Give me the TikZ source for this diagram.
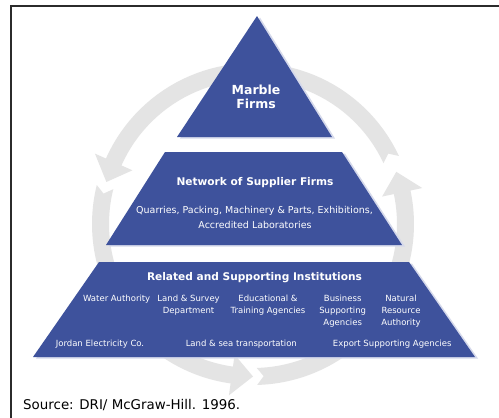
\documentclass[tikz,border=0pt]{standalone}
\usepackage{fontspec}
\setmainfont{DejaVu Sans}
\definecolor{pyrblue}{HTML}{3E529C}
\definecolor{pyrshadow}{HTML}{D5D9EB}
\definecolor{ringgray}{HTML}{E4E4E4}
\definecolor{framegray}{HTML}{2B2B2B}
% curved arrow segment of the cycle: tail angle #1, tip angle #2 (counter-clockwise)
\newcommand\cycarrow[2]{%
  \fill[ringgray]
    plot[domain=#1:#2-8, samples=50] ({253+161*cos(\x)},{224-161*sin(\x)})
    -- ({253+173*cos(#2-8)},{224-173*sin(#2-8)})
    -- ({253+152.5*cos(#2)},{224-152.5*sin(#2)})
    -- ({253+132*cos(#2-8)},{224-132*sin(#2-8)})
    -- plot[domain=#2-8:#1, samples=50] ({253+144*cos(\x)},{224-144*sin(\x)})
    -- ({253+152.5*cos(#1+2.5)},{224-152.5*sin(#1+2.5)}) -- cycle;}
\begin{document}
\begin{tikzpicture}[x=1pt,y=-1pt,
  tier/.style={fill=pyrblue},
  tiershadow/.style={fill=pyrshadow},
  toptxt/.style={text=white,font=\bfseries\fontsize{12.5}{14}\selectfont,inner sep=0pt,anchor=base},
  headtxt/.style={text=white,font=\bfseries\fontsize{10.6}{13}\selectfont,inner sep=0pt,anchor=base},
  midtxt/.style={text=white,font=\fontsize{9.5}{14}\selectfont,inner sep=0pt,anchor=base},
  itemtxt/.style={text=white,font=\fontsize{8.5}{12}\selectfont,inner sep=0pt,anchor=base},
  srctxt/.style={text=black,font=\fontsize{13.4}{16}\selectfont,inner sep=0pt,anchor=base west}]
\useasboundingbox (0,0) rectangle (499,418);
\fill[white] (0,0) rectangle (499,418);
% frame
\draw[framegray,line width=1.2pt] (11,418) -- (11,6) -- (499,6);
% cycle arrows
\cycarrow{25}{164}
\cycarrow{166}{270}
\cycarrow{271.5}{380}
% pyramid shadows
\fill[tiershadow,shift={(3,1.5)}] (257,16) -- (332,137) -- (177,137) -- cycle;
\fill[tiershadow,shift={(3,1.5)}] (165,152) -- (342,152) -- (402,245) -- (106,245) -- cycle;
\fill[tiershadow,shift={(3,1.5)}] (99,262) -- (409,262) -- (475,357) -- (33,357) -- cycle;
% pyramid tiers
\fill[tier] (257,16) -- (332,137) -- (177,137) -- cycle;
\fill[tier] (165,152) -- (342,152) -- (402,245) -- (106,245) -- cycle;
\fill[tier] (99,262) -- (409,262) -- (475,357) -- (33,357) -- cycle;
% texts
\node[toptxt] (t1) at (256,94) {Marble};
\node[toptxt] (t2) at (256,108) {Firms};
\node[headtxt] (m0) at (255,185.5) {Network of Supplier Firms};
\node[midtxt] (m1) at (254.5,213.5) {Quarries, Packing, Machinery \& Parts, Exhibitions,};
\node[midtxt] (m2) at (255,228) {Accredited Laboratories};
\node[headtxt] (b0) at (254.5,280) {Related and Supporting Institutions};
\node[itemtxt] (wa) at (116.7,301.5) {Water Authority};
\node[itemtxt] (ls1) at (188.6,301.5) {Land \& Survey};
\node[itemtxt] (ls2) at (188.6,313.5) {Department};
\node[itemtxt] (ed1) at (268,301.5) {Educational \&};
\node[itemtxt] (ed2) at (268,313.5) {Training Agencies};
\node[itemtxt] (bs1) at (342.7,301.5) {Business};
\node[itemtxt] (bs2) at (342.7,313.5) {Supporting};
\node[itemtxt] (bs3) at (342.7,325.5) {Agencies};
\node[itemtxt] (nr1) at (401,301.5) {Natural};
\node[itemtxt] (nr2) at (401,313.5) {Resource};
\node[itemtxt] (nr3) at (401,325.5) {Authority};
\node[itemtxt] (je) at (100,346.5) {Jordan Electricity Co.};
\node[itemtxt] (lt) at (241.3,346.5) {Land \& sea transportation};
\node[itemtxt] (ex) at (392.2,346.5) {Export Supporting Agencies};
\node[srctxt] (src) at (23,409) {Source: DRI/ McGraw-Hill. 1996.};
\end{tikzpicture}
\end{document}
